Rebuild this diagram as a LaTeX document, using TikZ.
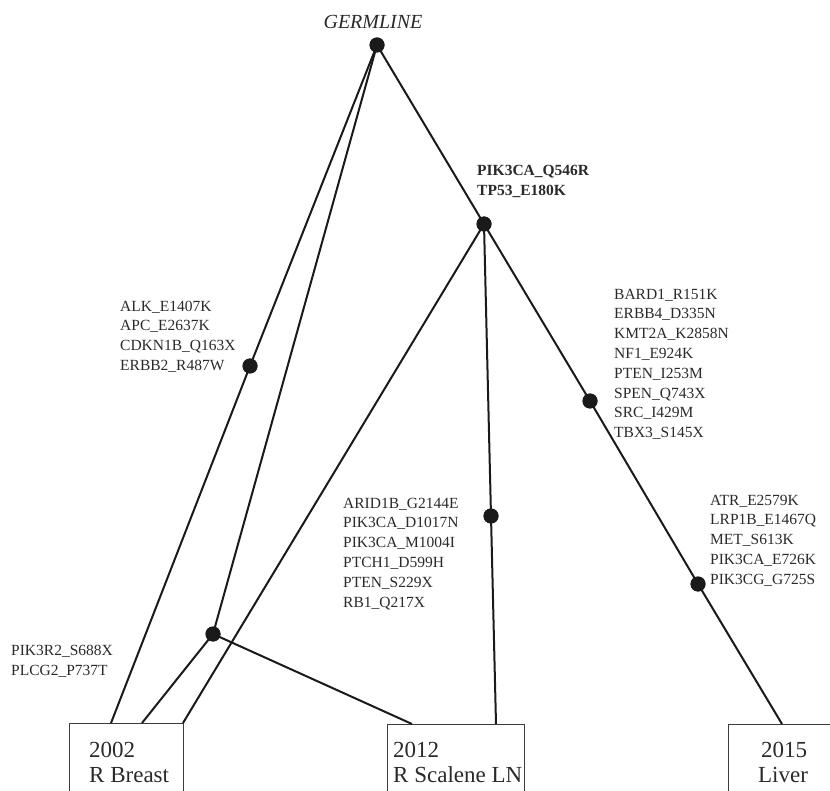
\documentclass[tikz,border=0pt]{standalone}
\usepackage{fontspec}
\setmainfont{Liberation Serif}
\definecolor{ink}{HTML}{1A1A1A}
\definecolor{txt}{HTML}{2A2A2A}
\tikzset{
  mut/.style={circle,fill=ink,inner sep=0pt,minimum size=15pt},
  edge/.style={draw=ink,line width=2pt},
  boxnode/.style={draw=ink!85,line width=1.3pt,anchor=north west,inner sep=0pt},
  lbl/.style={anchor=north west,inner sep=0pt,align=left,text=txt,font=\fontsize{15.5}{19.8}\selectfont},
  boxtxt/.style={anchor=base west,inner sep=0pt,text=txt,font=\fontsize{23}{26}\selectfont}
}
\begin{document}
\begin{tikzpicture}[x=1pt,y=-1pt]
\useasboundingbox (0,0) rectangle (830,791);
\clip (0,0) rectangle (830,791);
% boxes
\node[boxnode,minimum width=114pt,minimum height=90pt] (b1) at (69,723) {};
\node[boxnode,minimum width=137pt,minimum height=90pt] (b2) at (387,724) {};
\node[boxnode,minimum width=140pt,minimum height=90pt] (b3) at (728,724) {};
\node[boxtxt] (b1y) at (89,757) {2002};
\node[boxtxt] (b1n) at (89,782) {R Breast};
\node[boxtxt] (b2y) at (393,757) {2012};
\node[boxtxt] (b2n) at (393,782) {R Scalene LN};
\node[boxtxt,anchor=base] (b3y) at (784,757) {2015};
\node[boxtxt,anchor=base] (b3n) at (783,782) {Liver};
% connector end points on box tops
\coordinate (b1a) at (111,723);
\coordinate (b1b) at (142,723);
\coordinate (b1c) at (183,723);
\coordinate (b2a) at (412,724);
\coordinate (b2b) at (496,724);
\coordinate (b3a) at (782,724);
% mutation points
\node[mut] (g) at (377,45) {};
\node[mut] (p) at (484,224) {};
\node[mut] (alk) at (250,366) {};
\node[mut] (pr2) at (213,634) {};
\node[mut] (bard) at (590,401) {};
\node[mut] (arid) at (491,516) {};
\node[mut] (atr) at (698,584) {};
% edges
\draw[edge] (g.center) -- (alk.center) -- (b1a);
\draw[edge] (g.center) -- (pr2.center) -- (b1b);
\draw[edge] (pr2.center) -- (b2a);
\draw[edge] (g.center) -- (p.center);
\draw[edge] (p.center) -- (b1c);
\draw[edge] (p.center) -- (arid.center) -- (b2b);
\draw[edge] (p.center) -- (bard.center) -- (atr.center) -- (b3a);
% redraw dots on top
\foreach \n in {g,p,alk,pr2,bard,arid,atr} \fill[ink] (\n) circle (7.5pt);
% labels
\node[text=txt,font=\fontsize{20}{24}\selectfont\itshape] (gl) at (373,22) {GERMLINE};
\node[lbl,font=\fontsize{15.5}{20}\selectfont\bfseries] (pl) at (477,164.6) {PIK3CA\_Q546R\\TP53\_E180K};
\node[lbl] (alkl) at (120,300.6) {ALK\_E1407K\\APC\_E2637K\\CDKN1B\_Q163X\\ERBB2\_R487W};
\node[lbl] (bardl) at (614,288.6) {BARD1\_R151K\\ERBB4\_D335N\\KMT2A\_K2858N\\NF1\_E924K\\PTEN\_I253M\\SPEN\_Q743X\\SRC\_I429M\\TBX3\_S145X};
\node[lbl] (aridl) at (343,497.6) {ARID1B\_G2144E\\PIK3CA\_D1017N\\PIK3CA\_M1004I\\PTCH1\_D599H\\PTEN\_S229X\\RB1\_Q217X};
\node[lbl] (atrl) at (710,494.6) {ATR\_E2579K\\LRP1B\_E1467Q\\MET\_S613K\\PIK3CA\_E726K\\PIK3CG\_G725S};
\node[lbl,font=\fontsize{15.5}{20.5}\selectfont] (pr2l) at (11,644.6) {PIK3R2\_S688X\\PLCG2\_P737T};
\end{tikzpicture}
\end{document}
